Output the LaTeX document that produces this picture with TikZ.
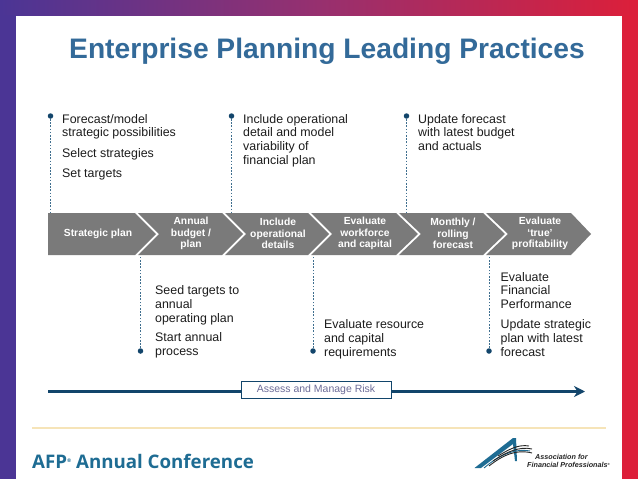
\documentclass[tikz,border=0pt]{standalone}
\usepackage{fontspec}
\setmainfont{Liberation Sans}
\newfontfamily\logofont{Open Sans}
\usetikzlibrary{arrows.meta,calc}
\definecolor{bandL}{HTML}{4B3595}
\definecolor{bandM}{HTML}{97306F}
\definecolor{bandR}{HTML}{DC1F3A}
\definecolor{titleblue}{HTML}{336A99}
\definecolor{chev}{HTML}{7A7A7A}
\definecolor{navy}{HTML}{12456B}
\definecolor{leadc}{HTML}{3F6F8F}
\definecolor{riskt}{HTML}{6C6C98}
\definecolor{gold}{HTML}{F6E4B8}
\definecolor{afpblue}{HTML}{1E6C93}
\definecolor{txt}{HTML}{1C1C1C}
\tikzset{
  x=1pt,y=-1pt,
  chevshape/.style={fill=chev,draw=none},
  chevlabel/.style={text=white,font=\fontsize{10.3}{11.4}\selectfont\bfseries,align=center,inner sep=0pt},
  bodytext/.style={text=txt,font=\fontsize{12.4}{13.8}\selectfont,align=left,anchor=north west,inner sep=0pt},
  dot/.style={circle,fill=navy,draw=none,minimum size=5.5pt,inner sep=0pt},
  leader/.style={draw=leadc,line width=.7pt,dash pattern=on 1.6pt off 1.6pt},
}
\begin{document}
\begin{tikzpicture}
\useasboundingbox (0,0) rectangle (638,479);
\fill[white] (0,0) rectangle (638,479);
% gradient frame
\shade[left color=bandL,right color=bandM] (0,0) rectangle (319,15.5);
\shade[left color=bandM,right color=bandR] (319,0) rectangle (638,15.5);
\fill[bandL] (0,15) rectangle (15.5,479);
\fill[bandR] (622,15) rectangle (638,479);
% title
\node[text=titleblue,font=\fontsize{28.2}{32}\selectfont\bfseries,inner sep=0pt] (title) at (327,51) {Enterprise Planning Leading Practices};
% chevrons
\fill[chevshape] (48,213) -- (135,213) -- (156,234) -- (135,255) -- (48,255) -- cycle;
\fill[chevshape] (138,213) -- (222,213) -- (243,234) -- (222,255) -- (138,255) -- (159,234) -- cycle;
\fill[chevshape] (225,213) -- (308,213) -- (329,234) -- (308,255) -- (225,255) -- (246,234) -- cycle;
\fill[chevshape] (311,213) -- (396,213) -- (418,234) -- (396,255) -- (311,255) -- (332,234) -- cycle;
\fill[chevshape] (399,213) -- (483,213) -- (505,234) -- (483,255) -- (399,255) -- (421,234) -- cycle;
\fill[chevshape] (486,213) -- (571,213) -- (591,234) -- (571,255) -- (486,255) -- (508,234) -- cycle;
\node[chevlabel] (c1) at (98,233.5) {Strategic plan};
\node[chevlabel] (c2) at (191,233.5) {Annual\\budget /\\plan};
\node[chevlabel] (c3) at (278,233.5) {Include\\operational\\details};
\node[chevlabel] (c4) at (365,233.5) {Evaluate\\workforce\\and capital};
\node[chevlabel] (c5) at (453,233.5) {Monthly /\\rolling\\forecast};
\node[chevlabel] (c6) at (540,233.5) {Evaluate\\‘true’\\profitability};
% leader ends
\coordinate (e1) at (50.5,212);
\coordinate (e2) at (231.5,212);
\coordinate (e3) at (406.5,212);
\coordinate (e4) at (140.5,256);
\coordinate (e5) at (313,256);
\coordinate (e6) at (489,256);
% bullets
\node[dot] (b1) at (50.5,116) {};
\node[dot] (b2) at (231.5,116) {};
\node[dot] (b3) at (406.5,116) {};
\node[dot] (b4) at (140.5,351) {};
\node[dot] (b5) at (313,351) {};
\node[dot] (b6) at (489,351) {};
\foreach \i in {1,...,6} \draw[leader] (b\i) -- (e\i);
% texts
\node[bodytext] (t1a) at (62,114) {Forecast/model\\strategic possibilities};
\node[bodytext] (t1b) at (62,148.5) {Select strategies};
\node[bodytext] (t1c) at (62,169) {Set targets};
\node[bodytext] (t2) at (243,114) {Include operational\\detail and model\\variability of\\financial plan};
\node[bodytext] (t3) at (418,114) {Update forecast\\with latest budget\\and actuals};
\node[bodytext] (t4a) at (155,285.5) {Seed targets to\\annual\\operating plan};
\node[bodytext] (t4b) at (155,332.5) {Start annual\\process};
\node[bodytext] (t5) at (324,319.5) {Evaluate resource\\and capital\\requirements};
\node[bodytext] (t6a) at (500.5,272) {Evaluate\\Financial\\Performance};
\node[bodytext] (t6b) at (500.5,319.5) {Update strategic\\plan with latest\\forecast};
% risk arrow
\node[draw=navy,fill=white,line width=.7pt,minimum width=150pt,minimum height=17pt,inner sep=0pt,text=riskt,font=\fontsize{10.5}{12}\selectfont] (risk) at (316,389.5) {Assess and Manage Risk};
\coordinate (ra) at (48,391.5);
\coordinate (rb) at (585,391.5);
\draw[navy,line width=2.2pt] (ra) -- (ra -| risk.west);
\draw[navy,line width=2.2pt,-{Stealth[length=11pt,width=11pt,inset=3.5pt]}] (rb -| risk.east) -- (rb);
% footer
\draw[gold,line width=1.5pt] (32,428) -- (606,428);
\node[anchor=west,inner sep=0pt,text=afpblue,font=\logofont\fontsize{18.7}{20}\selectfont\bfseries] (afp) at (32,461) {AFP\raisebox{6pt}{\fontsize{5}{5}\selectfont®} Annual Conference};
% logo mark
\fill[afpblue] (474.5,468) -- (513,438) -- (516,438) -- (517,461) -- (515,461) -- (513,444) -- (481,468) -- cycle;
\draw[afpblue,line width=.9pt] (484,468) .. controls (498,456) and (514,448) .. (530,451);
\draw[black!85,line width=.9pt] (489,466) .. controls (503,455) and (516,449) .. (532,453);
\draw[black!85,line width=.9pt] (493,461) .. controls (506,452) and (520,446) .. (532,449);
\draw[black!85,line width=.9pt] (498,456) .. controls (508,450) and (518,444) .. (529,446);
\node[anchor=west,inner sep=0pt,text=black!85,font=\fontsize{7.2}{8}\selectfont\bfseries\itshape] (aff) at (535,457) {Association for};
\node[anchor=west,inner sep=0pt,text=black!85,font=\fontsize{7.2}{8}\selectfont\bfseries\itshape] (afp2) at (527,464.5) {Financial Professionals\raisebox{2pt}{\fontsize{3}{3}\selectfont®}};
\end{tikzpicture}
\end{document}
